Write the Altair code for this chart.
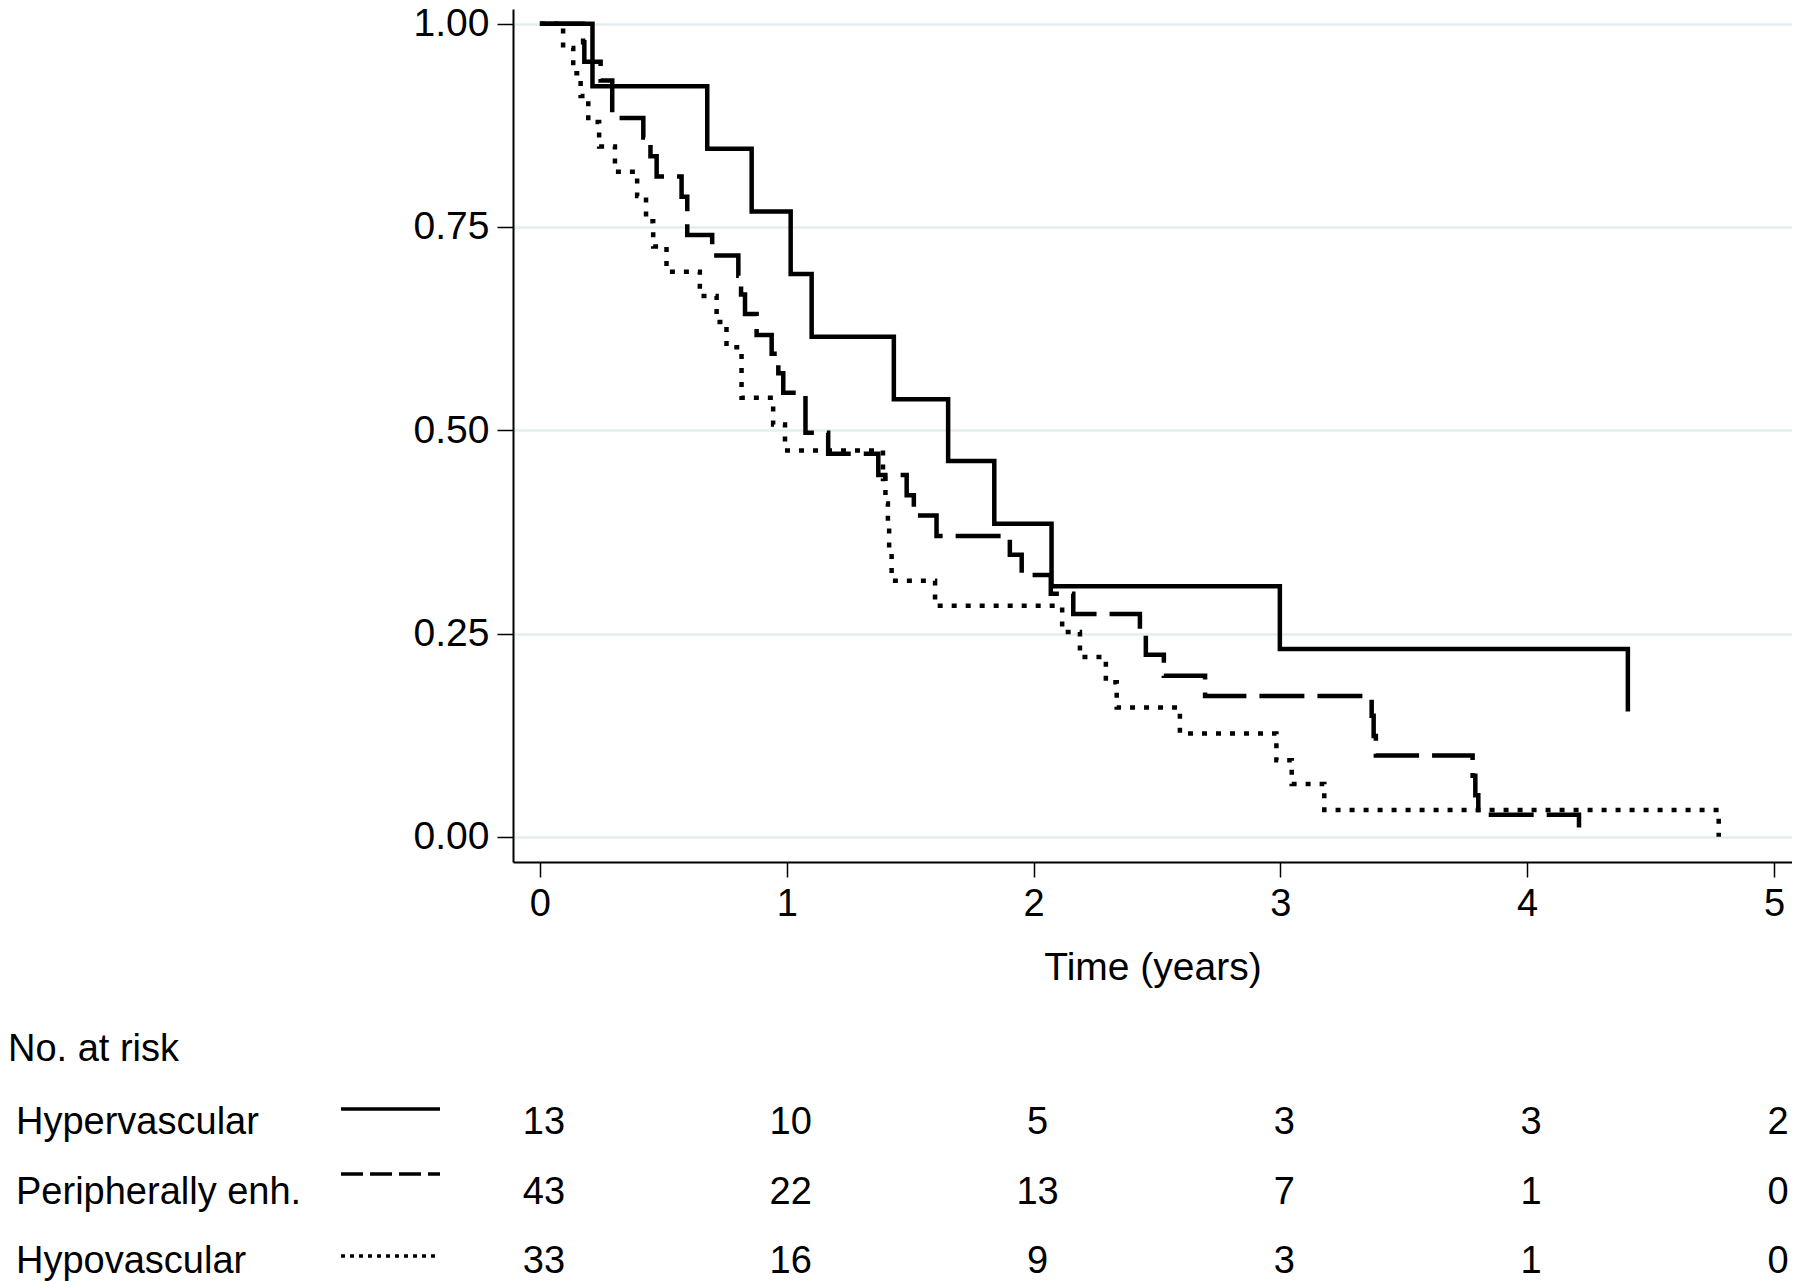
import altair as alt
import pandas as pd

FONT = "Liberation Sans, Arial, Helvetica, sans-serif"

groups = ["Hypervascular", "Peripherally enh.", "Hypovascular"]

# Kaplan-Meier step values (time in years, survival after the step)
hyper_t = [0, 0.213, 0.678, 0.858, 1.016, 1.101, 1.434, 1.654, 1.841, 2.073, 2.998, 4.408]
hyper_s = [1.0, 0.923, 0.846, 0.769, 0.692, 0.615, 0.538, 0.462, 0.385, 0.308, 0.231, 0.154]

periph_t = [0, 0.175, 0.180, 0.246, 0.293, 0.419, 0.448, 0.473, 0.574, 0.597, 0.698,
            0.804, 0.815, 0.831, 0.878, 0.939, 0.966, 0.986, 1.076, 1.168, 1.371,
            1.486, 1.515, 1.607, 1.904, 1.952, 2.070, 2.161, 2.431, 2.455, 2.528,
            2.695, 3.370, 3.378, 3.387, 3.779, 3.790, 3.802, 4.210]
periph_s = [1.0, 0.977, 0.953, 0.930, 0.884, 0.860, 0.837, 0.812, 0.787, 0.740, 0.715,
            0.690, 0.667, 0.643, 0.617, 0.594, 0.570, 0.546, 0.497, 0.471, 0.445,
            0.420, 0.395, 0.370, 0.347, 0.322, 0.299, 0.274, 0.250, 0.224, 0.198,
            0.173, 0.149, 0.124, 0.100, 0.075, 0.051, 0.027, 0.0]

hypo_t = [0, 0.094, 0.135, 0.165, 0.196, 0.240, 0.304, 0.394, 0.430, 0.459, 0.513,
          0.648, 0.716, 0.756, 0.817, 0.945, 0.993, 1.390, 1.400, 1.410, 1.415,
          1.425, 1.601, 2.116, 2.188, 2.293, 2.337, 2.593, 2.984, 3.046, 3.178, 4.776]
hypo_s = [1.0, 0.970, 0.939, 0.911, 0.879, 0.849, 0.818, 0.788, 0.757, 0.726, 0.695,
          0.665, 0.633, 0.602, 0.540, 0.507, 0.475, 0.440, 0.410, 0.380, 0.350,
          0.315, 0.284, 0.252, 0.221, 0.190, 0.159, 0.127, 0.094, 0.065, 0.033, 0.0]

# Number at risk table
risk_times = [0, 1, 2, 3, 4, 5]
risk_hyper = [13, 10, 5, 3, 3, 2]
risk_periph = [43, 22, 13, 7, 1, 0]
risk_hypo = [33, 16, 9, 3, 1, 0]

x_ticks = [0, 1, 2, 3, 4, 5]
y_ticks = [0, 0.25, 0.5, 0.75, 1.0]

# ---- build tables ----
frames = []
for g, ts, ss in [(groups[0], hyper_t, hyper_s), (groups[1], periph_t, periph_s), (groups[2], hypo_t, hypo_s)]:
    frames.append(pd.DataFrame({"group": g, "time": ts, "surv": ss}))
lines_df = pd.concat(frames, ignore_index=True)

risk_frames = []
for g, ns in [(groups[0], risk_hyper), (groups[1], risk_periph), (groups[2], risk_hypo)]:
    risk_frames.append(pd.DataFrame({"group": g, "time": risk_times, "n": ns}))
risk_df = pd.concat(risk_frames, ignore_index=True)
label_df = pd.DataFrame({"group": groups})

W, H = 1279, 853
x_scale = alt.Scale(domain=[-0.109, 5.073], nice=False, zero=False)
y_scale = alt.Scale(domain=[-0.031, 1.018], nice=False, zero=False)

dash_plot = {groups[0]: [1, 0], groups[1]: [45, 13], groups[2]: [5, 9]}
dash_sample = {groups[0]: [1, 0], groups[1]: [22, 7], groups[2]: [4, 5]}

x_axis = alt.Axis(values=x_ticks, format="d", title="Time (years)", grid=False,
                  tickSize=15, tickWidth=1.5, tickColor="black",
                  domainColor="black", domainWidth=2,
                  labelFontSize=38, labelFont=FONT, labelColor="black", labelPadding=8,
                  titleFontSize=39, titleFont=FONT, titleFontWeight="normal",
                  titleColor="black", titlePadding=25)
y_axis = alt.Axis(values=y_ticks, format=".2f", title=None, grid=True,
                  gridColor="#e4eef0", gridWidth=2.5,
                  tickSize=16, tickWidth=1.5, tickColor="black",
                  domainColor="black", domainWidth=2,
                  labelFontSize=39, labelFont=FONT, labelColor="black", labelPadding=8)

X = alt.X("time:Q", scale=x_scale, axis=x_axis)
Y = alt.Y("surv:Q", scale=y_scale, axis=y_axis)

layers = []
# draw in order so the solid curve sits on top
for g in [groups[2], groups[1], groups[0]]:
    layers.append(
        alt.Chart(lines_df).transform_filter(alt.datum.group == g)
        .mark_line(interpolate="step-after", strokeWidth=4.5, color="black",
                   strokeDash=dash_plot[g], strokeCap="butt")
        .encode(x=X, y=Y)
    )

# "No. at risk" header
layers.append(
    alt.Chart(pd.DataFrame({"t": ["No. at risk"]})).mark_text(
        align="left", baseline="alphabetic", fontSize=38, font=FONT, color="black"
    ).encode(x=alt.value(-505), y=alt.value(1052), text="t:N")
)

row_base = [1125, 1195, 1264]
sample_y = [1100, 1165, 1247]
for g, yb, ys in zip(groups, row_base, sample_y):
    layers.append(
        alt.Chart(label_df).transform_filter(alt.datum.group == g).mark_text(
            align="left", baseline="alphabetic", fontSize=38, font=FONT, color="black"
        ).encode(x=alt.value(-497), y=alt.value(yb), text="group:N")
    )
    layers.append(
        alt.Chart(label_df).transform_filter(alt.datum.group == g).mark_rule(
            color="black", strokeWidth=3.5, strokeDash=dash_sample[g], strokeCap="butt"
        ).encode(x=alt.value(-172), x2=alt.value(-73), y=alt.value(ys))
    )
    layers.append(
        alt.Chart(risk_df).transform_filter(alt.datum.group == g).mark_text(
            align="center", baseline="alphabetic", fontSize=38, font=FONT, color="black", dx=4
        ).encode(x=X, y=alt.value(yb), text="n:Q")
    )

chart = alt.layer(*layers).properties(
    width=W, height=H, padding={"top": -4, "left": 0, "right": 0, "bottom": 0}
).configure(
    font=FONT, background="white"
).configure_view(stroke=None)

chart.save("out.html", embed_options={"renderer": "svg", "actions": False})
